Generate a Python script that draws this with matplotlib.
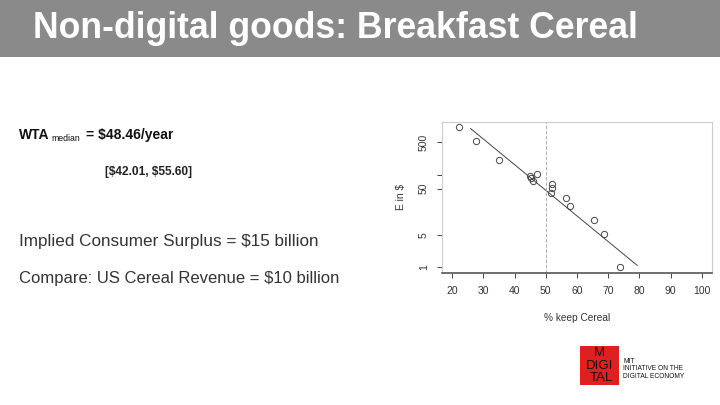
import matplotlib.pyplot as plt
from matplotlib.patches import Rectangle

plt.rcParams['font.family'] = ['Liberation Sans', 'DejaVu Sans']

# points (% keep cereal vs. E in $)
keep_pct = [22.1, 27.6, 35.0, 44.9, 45.3, 46.0, 47.2, 51.9, 52.1, 51.6, 56.4, 57.9, 65.6, 68.7, 73.7]
e_dollars = [1070, 525, 207, 95, 84, 73, 103, 64, 51, 41, 31, 21, 10.4, 5.2, 1.0]
# fitted line end points
fit_x = [25.9, 79.3]
fit_y = [987, 1.1]
median_x = 50

x_ticks = [20, 30, 40, 50, 60, 70, 80, 90, 100]
y_ticks = [1, 5, 50, 100, 500]
y_tick_labels = ['1', '5', '50', '', '500']

fig = plt.figure(figsize=(7.2, 4.05), dpi=100)

# title bar
fig.patches.append(Rectangle((0, 1 - 57 / 405), 1, 57 / 405, transform=fig.transFigure,
                             facecolor='#8a8a8a', edgecolor='none'))
fig.text(33 / 720, 1 - 28 / 405, 'Non-digital goods: Breakfast Cereal', color='white',
         fontsize=25.7, fontweight='bold', va='center', ha='left')

# left-hand text
fig.text(19 / 720, 1 - 135 / 405, 'WTA', fontsize=10, fontweight='bold', va='center', color='#111111')
fig.text(51 / 720, 1 - 138.5 / 405, 'median', fontsize=6.3, va='center', color='#111111')
fig.text(86 / 720, 1 - 135 / 405, '= \\$48.46/year', fontsize=10, fontweight='bold', va='center', color='#111111')
fig.text(105 / 720, 1 - 172 / 405, '[\\$42.01, \\$55.60]', fontsize=8.6, fontweight='bold', va='center',
         color='#222222')
fig.text(19 / 720, 1 - 241 / 405, 'Implied Consumer Surplus = \\$15 billion', fontsize=12.3,
         va='center', color='#333333')
fig.text(19 / 720, 1 - 278 / 405, 'Compare: US Cereal Revenue = \\$10 billion', fontsize=12.0,
         va='center', color='#333333')

# scatter plot
ax = fig.add_axes([442.3 / 720, 1 - 272.7 / 405, 269.4 / 720, 150.4 / 405])
ax.set_yscale('log')
ax.plot(keep_pct, e_dollars, 'o', mfc='none', mec='#444444', ms=4.5, mew=0.7)
ax.plot(fit_x, fit_y, '-', color='#444444', lw=0.7)
ax.axvline(median_x, color='#b0b0b0', ls='--', lw=0.7)
ax.set_xlim(16.8, 103.2)
ax.set_ylim(0.764, 1350)
ax.set_xticks(x_ticks)
ax.set_xticklabels([str(t) for t in x_ticks])
ax.set_yticks(y_ticks)
ax.set_yticklabels(y_tick_labels, rotation=90, va='center')
ax.yaxis.set_minor_locator(plt.NullLocator())
ax.tick_params(axis='both', labelsize=7.5, length=3.6, width=0.7, color='#444444',
               labelcolor='#333333', pad=6)
for side in ['top', 'right', 'left']:
    ax.spines[side].set_color('#cccccc')
    ax.spines[side].set_linewidth(0.8)
ax.spines['bottom'].set_color('#555555')
ax.spines['bottom'].set_linewidth(1.2)
ax.set_xlabel('% keep Cereal', fontsize=7.3, color='#333333', labelpad=12)
ax.set_ylabel('E in \\$', fontsize=7.3, color='#333333', labelpad=9)

# logo
fig.patches.append(Rectangle((580 / 720, 1 - 385 / 405), 39 / 720, 39 / 405, transform=fig.transFigure,
                             facecolor='#e02020', edgecolor='none'))
fig.text(599.5 / 720, 1 - 353 / 405, 'M', fontsize=9.5, ha='center', va='center', color='#111111')
fig.text(599.5 / 720, 1 - 366 / 405, 'DIGI', fontsize=9.5, ha='center', va='center', color='#111111')
fig.text(601 / 720, 1 - 378 / 405, 'TAL', fontsize=9.5, ha='center', va='center', color='#111111')
fig.text(623 / 720, 1 - 369 / 405, 'MIT\nINITIATIVE ON THE\nDIGITAL ECONOMY', fontsize=4.8,
         ha='left', va='center', color='#111111', linespacing=1.05)

fig.savefig('out.png', dpi=100)
